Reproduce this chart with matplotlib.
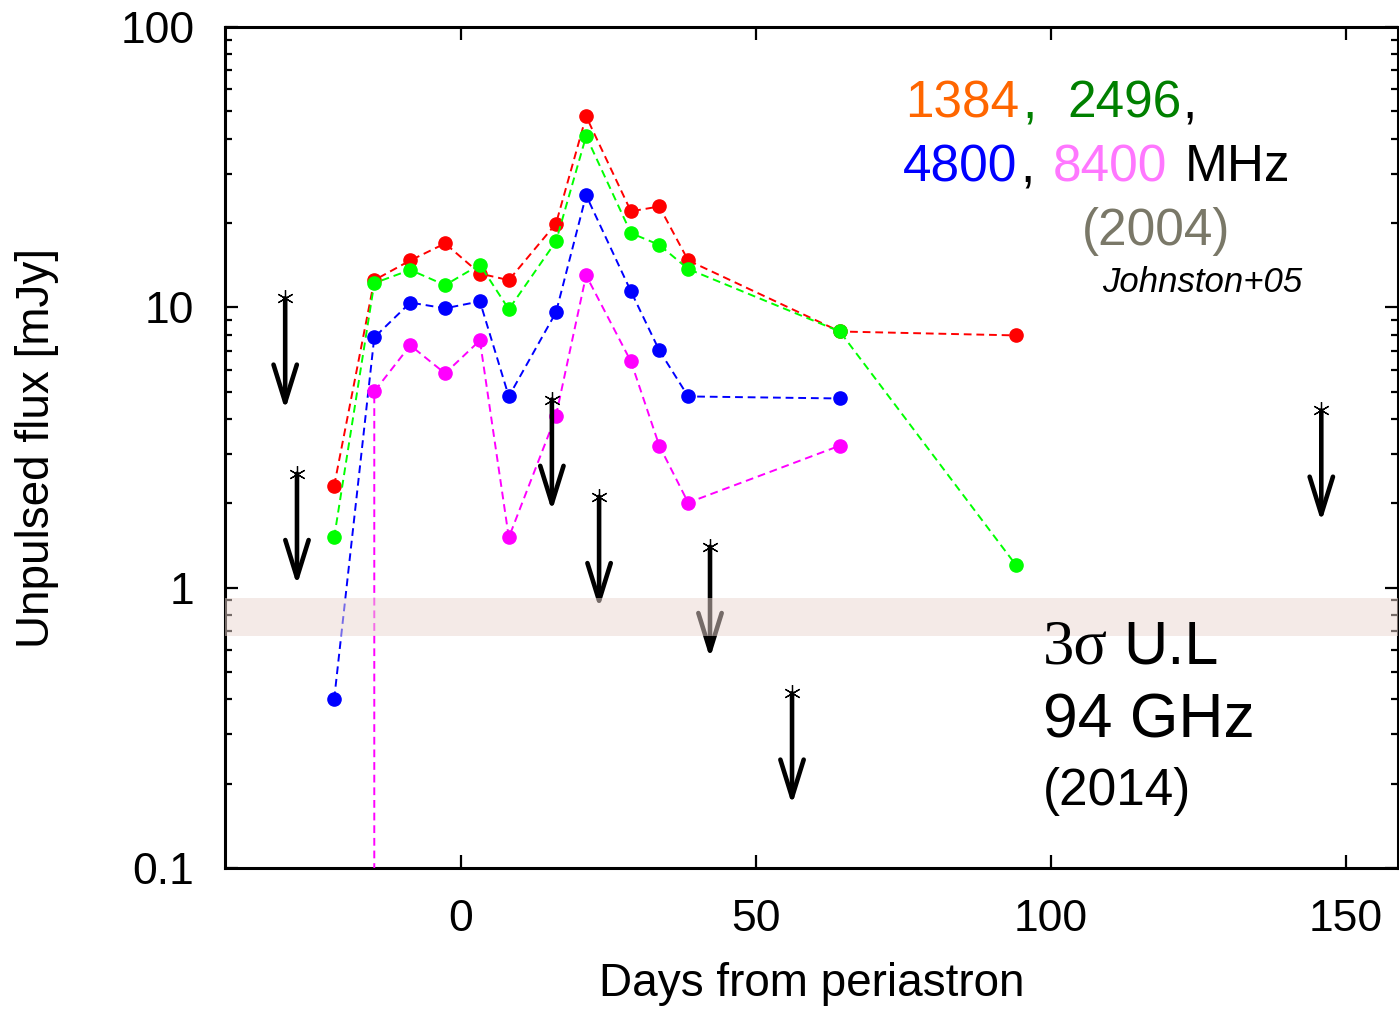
import numpy as np
import matplotlib
matplotlib.use("Agg")
import matplotlib.pyplot as plt
from matplotlib.ticker import FixedLocator, FuncFormatter, LogLocator, NullFormatter

plt.rcParams['font.family'] = ['Liberation Sans', 'DejaVu Sans']

# Johnston+05 (2004 periastron) unpulsed flux, days from periastron
days = [-21.5, -14.7, -8.6, -2.7, 3.2, 8.1, 16.1, 21.2, 28.8, 33.6, 38.5, 64.2, 94.1]
flux_1384 = [2.31, 12.5, 14.7, 16.9, 13.2, 12.5, 19.9, 48.0, 22.0, 22.9, 14.7, 8.2, 7.94]
flux_2496 = [1.51, 12.2, 13.6, 12.0, 14.2, 9.84, 17.2, 40.8, 18.4, 16.7, 13.7, 8.2, 1.20]

days_4800 = [-21.5, -14.7, -8.6, -2.7, 3.2, 8.1, 16.1, 21.2, 28.8, 33.6, 38.5, 64.2]
flux_4800 = [0.40, 7.81, 10.4, 9.92, 10.5, 4.81, 9.6, 25.1, 11.4, 7.02, 4.81, 4.73]

# first 8400 point lies far below the plotted range
days_8400 = [-14.7, -14.7, -8.6, -2.7, 3.2, 8.1, 16.1, 21.2, 28.8, 33.6, 38.5, 64.2]
flux_8400 = [0.01, 5.01, 7.32, 5.81, 7.62, 1.51, 4.11, 13.0, 6.41, 3.21, 2.01, 3.21]

# 94 GHz (2014) 3 sigma upper limits
ul_days = [-29.8, -27.8, 15.4, 23.4, 42.2, 56.1, 145.8]
ul_flux = [10.77, 2.55, 4.69, 2.11, 1.40, 0.42, 4.29]

# typical 3 sigma level band
band_lo, band_hi = 0.67, 0.92

W, H = 1399, 1009
fig = plt.figure(figsize=(W / 100, H / 100), dpi=100)
ax = fig.add_axes([225 / W, 1 - 868 / H, (1398 - 225) / W, (868 - 27) / H])

dash = (0, (4, 2.5))
ax.plot(days, flux_1384, ls=dash, lw=1.4, color='#ff0000', marker='o', ms=9.5, zorder=3)
ax.plot(days, flux_2496, ls=dash, lw=1.4, color='#00ff00', marker='o', ms=9.5, zorder=3)
ax.plot(days_4800, flux_4800, ls=dash, lw=1.4, color='#0000ff', marker='o', ms=9.5, zorder=3)
ax.plot(days_8400, flux_8400, ls=dash, lw=1.4, color='#ff00ff', marker='o', ms=9.5, zorder=3)

# upper limits: asterisk with downward arrow
for x, y in zip(ul_days, ul_flux):
    ax.annotate('', xy=(x, y / 2.5), xytext=(x, y),
                arrowprops=dict(arrowstyle='->,head_length=0.9,head_width=0.28',
                                lw=3.3, color='black', shrinkA=0, shrinkB=0,
                                mutation_scale=30), zorder=3)
    ax.plot(x, y, marker=(6, 2, 0), ms=12, mew=0.9, color='black', zorder=4)

ax.axhspan(band_lo, band_hi, color=(235 / 255, 215 / 255, 209 / 255), alpha=0.5,
           lw=0, zorder=4)

ax.set_yscale('log')
ax.set_xlim(-40, 158.8)
ax.set_ylim(0.1, 100)

ax.xaxis.set_major_locator(FixedLocator([0, 50, 100, 150]))
ax.yaxis.set_major_locator(FixedLocator([0.1, 1, 10, 100]))
ax.yaxis.set_minor_locator(LogLocator(base=10, subs=np.arange(2, 10)))
ax.yaxis.set_minor_formatter(NullFormatter())
ax.yaxis.set_major_formatter(FuncFormatter(lambda v, p: '%g' % v))

ax.tick_params(which='both', direction='in', top=True, right=True, width=1.6)
ax.tick_params(which='major', length=9.5, labelsize=32)
ax.tick_params(which='minor', length=5)
ax.tick_params(axis='x', pad=22)
ax.tick_params(axis='y', pad=22)
for s in ax.spines.values():
    s.set_linewidth(2.2)

ax.set_xlabel('Days from periastron', fontsize=33, labelpad=16)
ax.set_ylabel('Unpulsed flux [mJy]', fontsize=33, labelpad=44)


def put(px, py, s, **kw):
    fig.text(px / W, 1 - py / H, s, va='baseline', ha='left', **kw)


put(905, 117, '1384', color='#ff6600', fontsize=37)
put(1022, 117, ',', color='#008000', fontsize=37)
put(1067, 117, '2496', color='#008000', fontsize=37)
put(1182, 117, ',', color='black', fontsize=37)
put(903, 181, '4800', color='#0000ff', fontsize=37)
put(1020, 181, ',', color='black', fontsize=37)
put(1053, 181, '8400', color='#ff77ff', fontsize=37)
put(1185, 181, 'MHz', color='black', fontsize=37)
put(1082, 245, '(2004)', color='#7a7868', fontsize=37)
put(1102, 292, 'Johnston+05', color='black', fontsize=25, style='italic')

put(1043, 663, '3σ', color='black', fontsize=45, family='Liberation Serif', zorder=6)
put(1123, 663, 'U.L', color='black', fontsize=44, zorder=6)
put(1043, 737, '94 GHz', color='black', fontsize=45, zorder=6)
put(1043, 805, '(2014)', color='black', fontsize=37, zorder=6)

fig.savefig('out.png', dpi=100)
